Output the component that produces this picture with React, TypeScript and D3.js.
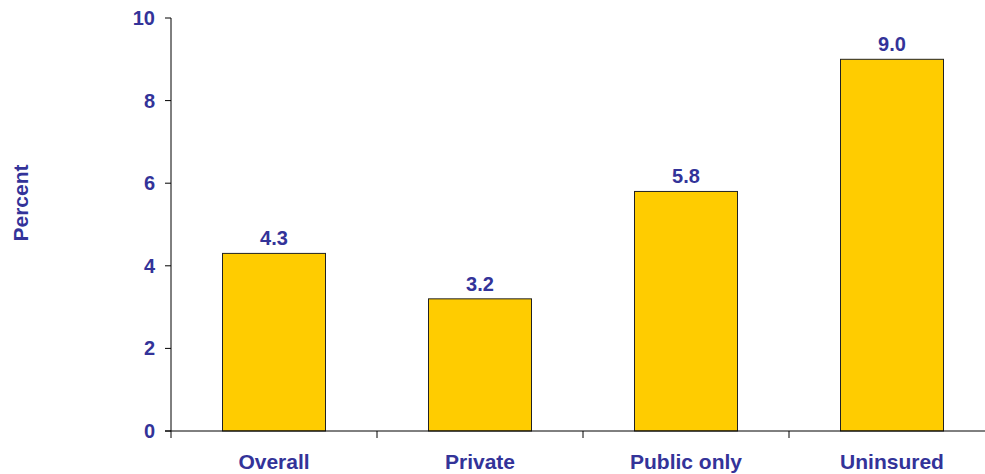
import React from "react";
import * as d3 from "d3";

const categories = ["Overall", "Private", "Public only", "Uninsured"];
const values = [4.3, 3.2, 5.8, 9.0];
const yTicks = [0, 2, 4, 6, 8, 10];

const W = 985;
const H = 474;
const color = "#333399";
const font = "Arial, 'Liberation Sans', sans-serif";

export default function App() {
  const x = d3.scaleBand<string>().domain(categories).range([171, 995]).paddingInner(0).paddingOuter(0);
  const y = d3.scaleLinear().domain([0, 10]).range([431, 18]);
  const bw = x.bandwidth() * 0.5;
  return (
    <svg width={W} height={H} style={{ position: "absolute", left: 0, top: 0 }}>
      <rect width={W} height={H} fill="#fff" />
      {categories.map((c, i) => {
        const cx = (x(c) as number) + x.bandwidth() / 2;
        return (
          <g key={c}>
            <rect x={cx - bw / 2} y={y(values[i])} width={bw} height={y(0) - y(values[i])} fill="#FFCC00" stroke="#222" strokeWidth={1} />
            <text x={cx} y={y(values[i]) - 8} textAnchor="middle" fontFamily={font} fontWeight="bold" fontSize={20} fill={color}>
              {values[i].toFixed(1)}
            </text>
            <text x={cx} y={469} textAnchor="middle" fontFamily={font} fontWeight="bold" fontSize={21} fill={color}>
              {c}
            </text>
          </g>
        );
      })}
      <line x1={171} x2={171} y1={18} y2={431} stroke="#000" strokeWidth={1} />
      <line x1={165} x2={995} y1={431} y2={431} stroke="#000" strokeWidth={1} />
      {yTicks.map((t) => (
        <g key={t}>
          <line x1={165} x2={171} y1={y(t)} y2={y(t)} stroke="#000" />
          <text x={155} y={y(t) + 7} textAnchor="end" fontFamily={font} fontWeight="bold" fontSize={20} fill={color}>
            {t}
          </text>
        </g>
      ))}
      {categories.map((c) => (
        <line key={c} x1={x(c) as number} x2={x(c) as number} y1={431} y2={438} stroke="#000" />
      ))}
      <text transform="translate(28,203) rotate(-90)" textAnchor="middle" fontFamily={font} fontWeight="bold" fontSize={21} fill={color}>
        Percent
      </text>
    </svg>
  );
}
